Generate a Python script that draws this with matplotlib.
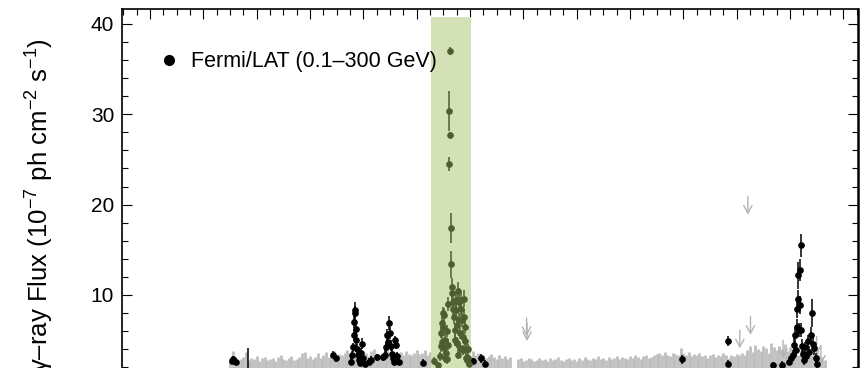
import numpy as np
import matplotlib
matplotlib.use("Agg")
import matplotlib.pyplot as plt
from matplotlib.ticker import MultipleLocator
from matplotlib.lines import Line2D

plt.rcParams['font.family'] = ['Liberation Sans', 'DejaVu Sans']
plt.rcParams['mathtext.fontset'] = 'custom'
plt.rcParams['mathtext.rm'] = 'Liberation Sans'
plt.rcParams['mathtext.it'] = 'Liberation Sans:italic'
plt.rcParams['mathtext.default'] = 'regular'

# ---- long-term binned light curve (gray), top of each bin's bar, 1e-7 ph cm^-2 s^-1
gray_start_mjd = 54750
gray_bin_days = 5
gray_top = [
    3.0, 3.8, 2.8, 2.6,
    2.9, 3.1, 3.7, 2.8, 3.0, 2.9, 3.2, 2.7, 3.0, 3.1, 2.8, 2.9, 3.0, 2.7, 3.1, 3.3, 2.9,
    2.8, 3.0, 3.2, 2.8, 2.9, 3.1, 3.6, 3.7, 3.0, 3.2, 2.9, 3.1, 3.6, 3.0, 3.3, 3.7, 3.1,
    3.4, 3.8, 3.2, 3.5, 3.3, 3.6, 3.9, 3.4, 3.2, 3.5, 3.7, 3.3, 3.4, 3.6, 3.2, 3.8, 4.0,
    3.5, 3.3, 3.6, 3.4, 3.9, 3.5, 3.2, 3.6, 3.4, 3.7, 3.3, 3.8, 3.5, 3.4, 3.6, 3.9, 3.5,
    3.6, 3.9, 3.4, 3.7, 3.2, 3.4, 3.1, 3.3, 3.5, 3.2, 3.4, 3.0, 3.3, 3.1, 3.4, 3.2, 3.5,
    3.3, 3.1,
    3.8, 3.3, 3.6, 3.1, 3.4, 3.0, 3.2, 3.5, 3.1, 2.9, 3.3, 3.0, 3.2, 2.9, 3.1,
    np.nan, np.nan,
    2.9, 3.0, 2.7, 2.8, 3.0, 2.9, 2.7, 2.8, 3.0, 2.8, 2.9, 2.7, 3.0, 2.8, 2.9, 3.1, 2.8,
    2.7, 2.9, 3.0, 2.8, 2.9, 2.7, 3.0, 2.8, 3.1, 2.9, 2.8, 3.0, 2.9, 3.2, 2.9, 3.0, 2.8,
    3.1, 2.9, 3.0, 3.2, 2.9, 3.1, 3.0, 2.9, 3.2, 3.0, 3.3, 3.1, 2.9, 3.2, 3.4, 3.0, 3.1,
    3.3, 3.5,
    3.6, 3.3, 3.7, 3.4, 3.2, 3.6, 3.5, 3.3, 4.1, 3.6, 3.4, 3.7, 3.2, 3.5, 3.3, 3.6,
    3.2, 3.4, 3.0, 3.3, 3.5, 3.1, 3.4, 3.2, 3.6, 3.3, 3.0, 3.4, 3.2, 3.5, 3.3, 3.6, 3.4,
    3.9, 4.3, 3.7, 4.5, 4.0, 3.8, 4.4, 4.1, 3.6, 4.7, 4.2, 3.9, 4.4, 4.0, 4.6, 3.8, 4.2,
    4.0,
    3.7, 3.4, 3.9, 3.2, 3.6, 3.8, 3.3, 3.5, 3.9, 3.4, 3.1, 2.8,
]

# ---- upper limits (gray arrows)
ul_mjd = [55306, 55307, 55706, 55721, 55726, 55787, 55850, 55858]
ul_flux = [7.45, 6.9, 6.1, 20.9, 7.6, 5.0, 5.4, 4.3]

# ---- daily detections outside the highlighted flare
black_mjd = [54753, 54756, 54761, 54784,
             54943, 54949, 54976, 54978, 54980, 54982, 54983, 54984, 54985, 54986,
             54987, 54988, 54990, 54992, 54994, 54996, 54998, 55000, 55003, 55010,
             55014, 55025, 55037,
             55040, 55043, 55045, 55047, 55049, 55050, 55051, 55053, 55055, 55058,
             55060, 55061, 55063, 55066,
             55112, 55205, 55220, 55228,
             55597, 55683, 55684, 55768, 55785,
             55798, 55802, 55806, 55808, 55810, 55812, 55813, 55814, 55815, 55816,
             55817, 55818, 55819, 55820, 55821, 55822, 55824, 55826, 55828, 55830,
             55833, 55836, 55839, 55841, 55843, 55845, 55848, 55851]
black_flux = [2.7, 2.9, 2.6, 1.0,
              3.4, 3.0, 2.6, 3.3, 4.2, 5.6, 7.0, 8.35, 8.0, 6.2,
              5.0, 4.0, 3.3, 2.8, 2.5, 3.6, 4.6, 3.0, 2.4, 2.6,
              2.8, 3.1, 3.1,
              3.4, 4.2, 5.6, 4.8, 6.9, 5.8, 4.4, 3.5, 3.0, 2.6,
              5.0, 4.5, 3.2, 2.6,
              2.5, 2.7, 3.0, 2.4,
              2.9, 4.9, 2.4, 2.2, 2.3,
              2.6, 3.0, 3.4, 4.5, 5.6, 3.9, 8.5, 6.5, 12.2, 9.6,
              6.1, 12.8, 8.9, 15.5, 6.1, 4.4, 3.5, 2.8, 4.2, 3.2,
              4.9, 3.7, 5.6, 8.0, 4.6, 4.1, 3.0, 2.4]
black_err = [0.3, 0.3, 0.4, 3.1,
             0.4, 0.4, 0.4, 0.5, 0.5, 0.6, 0.7, 0.9, 0.8, 0.7,
             0.6, 0.6, 0.5, 0.5, 0.4, 0.5, 0.6, 0.5, 0.4, 0.4,
             0.4, 0.4, 0.4,
             0.5, 0.6, 0.6, 0.6, 0.8, 0.7, 0.6, 0.5, 0.5, 0.4,
             0.5, 0.5, 0.5, 0.4,
             0.4, 0.3, 0.5, 0.4,
             0.5, 0.6, 0.4, 0.4, 0.4,
             0.4, 0.5, 0.5, 0.7, 0.9, 0.6, 1.0, 0.8, 1.5, 1.0,
             0.8, 1.2, 1.0, 1.3, 0.8, 0.7, 0.6, 0.5, 0.6, 0.5,
             0.7, 0.6, 0.8, 1.6, 0.7, 0.7, 0.6, 0.5]

# ---- daily detections inside the highlighted flare period
flare_mjd = [55132, 55140, 55143, 55145, 55146, 55147, 55148, 55149, 55150, 55151,
             55152, 55153, 55154, 55155, 55156, 55157, 55158, 55159,
             55160, 55161, 55162, 55163, 55164, 55165,
             55166, 55167, 55168, 55169, 55170, 55171, 55172, 55173, 55174, 55175,
             55176, 55177, 55178, 55179, 55180, 55181, 55182, 55183, 55184, 55185,
             55186, 55187, 55188, 55189, 55190, 55191, 55192, 55193, 55194, 55196,
             55197, 55199]
flare_flux = [2.7, 2.2, 3.2, 4.3, 5.8, 4.8, 6.9, 8.0, 6.5, 4.1,
              7.8, 3.0, 5.0, 3.6, 2.9, 6.0, 4.5, 9.0,
              24.5, 30.4, 37.0, 27.7, 17.45, 13.4,
              10.9, 10.2, 9.25, 8.5, 7.6, 6.1, 5.0, 9.4, 8.3, 6.7,
              4.7, 3.4, 10.4, 9.25, 7.2, 5.8, 4.1, 9.4, 8.5, 7.2,
              5.4, 3.9, 9.6, 7.6, 6.4, 4.9, 4.0, 3.0, 2.8, 4.0,
              3.0, 2.4]
flare_err = [0.4, 0.4, 0.5, 0.6, 0.6, 0.6, 0.7, 0.7, 0.7, 0.6,
             0.8, 0.5, 0.7, 0.6, 0.5, 0.7, 0.6, 0.8,
             0.8, 2.2, 0.4, 0.3, 1.65, 1.5,
             1.0, 1.0, 0.9, 0.9, 0.8, 0.7, 0.7, 0.9, 0.8, 0.8,
             0.6, 0.5, 1.0, 0.9, 0.8, 0.7, 0.6, 0.9, 0.9, 0.8,
             0.7, 0.6, 0.9, 0.8, 0.7, 0.7, 0.6, 0.5, 0.5, 0.6,
             0.5, 0.4]

# highlighted period
flare_window = (55127, 55202)
flare_band_top = 40.8

y_ticks = [10, 20, 30, 40]

GRAY = '#bfbfbf'
ARROW_GRAY = '#b3b3b3'
BAND = '#d4e1b6'
FLARE_PT = '#4f5e2e'

fig = plt.figure(figsize=(8.66, 3.68), dpi=100)
ax = fig.add_axes([0.14145, -0.0470, 0.84988, 1.0212])

gray_mjd = gray_start_mjd + gray_bin_days * np.arange(len(gray_top))
ax.vlines(gray_mjd, 0, gray_top, colors=GRAY, linewidth=2.0, zorder=1)

ax.fill_between(flare_window, 0, flare_band_top, color=BAND, linewidth=0, zorder=2)

for x, u in zip(ul_mjd, ul_flux):
    ax.annotate('', xy=(x, u - 2.0), xytext=(x, u),
                arrowprops=dict(arrowstyle='->,head_length=0.55,head_width=0.3',
                                color=ARROW_GRAY, lw=1.0, shrinkA=0, shrinkB=0,
                                mutation_scale=10),
                zorder=2.5)

ax.errorbar(black_mjd, black_flux, yerr=black_err, fmt='o', color='black',
            ms=3.8, elinewidth=1.1, capsize=0, zorder=3)
ax.errorbar(flare_mjd, flare_flux, yerr=flare_err, fmt='o', color=FLARE_PT,
            ms=3.8, elinewidth=1.1, capsize=0, zorder=3)

ax.set_xlim(54548.4, 55928.5)
ax.set_ylim(0, 41.6)
ax.xaxis.set_major_locator(MultipleLocator(100))
ax.xaxis.set_minor_locator(MultipleLocator(25))
ax.set_yticks(y_ticks)
ax.yaxis.set_minor_locator(MultipleLocator(2))
ax.tick_params(which='both', direction='in', top=True, right=True, width=0.8,
               labelsize=15, pad=6, labelbottom=False)
ax.tick_params(which='major', length=7)
ax.tick_params(which='minor', length=4.3)
for side in ['left', 'top', 'bottom']:
    ax.spines[side].set_linewidth(1.2)
ax.spines['right'].set_linewidth(1.8)

ax.set_ylabel('γ–ray Flux (10$^{-7}$ ph cm$^{-2}$ s$^{-1}$)', fontsize=18.5)
ax.yaxis.label.set_horizontalalignment('right')
ax.yaxis.set_label_coords(-0.091, 0.924)

handle = Line2D([], [], marker='o', color='black', ls='none', ms=7)
ax.legend([handle], ['Fermi/LAT (0.1–300 GeV)'], loc='upper left',
          bbox_to_anchor=(0.048, 0.889), frameon=False, fontsize=15.5,
          handlelength=1.0, handletextpad=0.55, borderpad=0, borderaxespad=0)

fig.savefig('out.png', dpi=100)
